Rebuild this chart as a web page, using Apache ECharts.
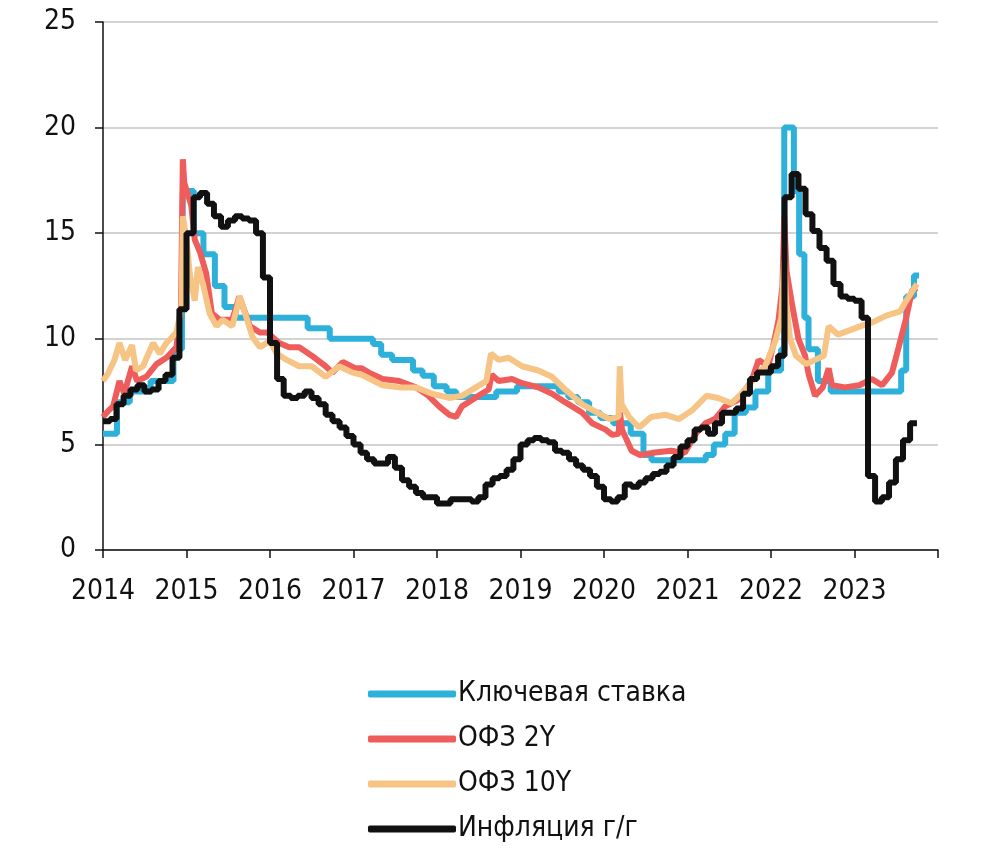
<!DOCTYPE html>
<html>
<head>
<meta charset="utf-8">
<script src="https://cdn.jsdelivr.net/npm/echarts@6/dist/echarts.min.js"></script>
<style>
  html, body { margin: 0; padding: 0; background: #fff; }
  #chart { width: 987px; height: 855px; }
</style>
</head>
<body>
<div id="chart"></div>
<script>
// ---------- DATA ----------
const seriesNames = ['Ключевая ставка', 'ОФЗ 2Y', 'ОФЗ 10Y', 'Инфляция г/г'];
const yTicks = [0, 5, 10, 15, 20, 25];
const xYears = [2014, 2015, 2016, 2017, 2018, 2019, 2020, 2021, 2022, 2023];

// Key rate (step changes)
const keyDates = ['2014-01-01','2014-03-03','2014-04-28','2014-07-28','2014-11-05','2014-12-12','2014-12-16',
  '2015-02-02','2015-03-16','2015-05-05','2015-06-16','2015-08-03','2016-06-14','2016-09-19',
  '2017-03-27','2017-05-02','2017-06-19','2017-09-18','2017-10-30','2017-12-18',
  '2018-02-12','2018-03-26','2018-09-17','2018-12-17','2019-06-17','2019-07-29','2019-09-09','2019-10-28','2019-12-16',
  '2020-02-10','2020-04-27','2020-06-22','2020-07-27','2021-03-22','2021-04-26','2021-06-15','2021-07-26','2021-09-13',
  '2021-10-25','2021-12-20','2022-02-14','2022-02-28','2022-04-11','2022-05-04','2022-05-27','2022-06-14','2022-07-25',
  '2022-09-19','2023-07-24','2023-08-15','2023-09-18','2023-10-10'];
const keyValues = [5.5,7.0,7.5,8.0,9.5,10.5,17.0,
  15.0,14.0,12.5,11.5,11.0,10.5,10.0,
  9.75,9.25,9.0,8.5,8.25,7.75,
  7.5,7.25,7.5,7.75,7.5,7.25,7.0,6.5,6.25,
  6.0,5.5,4.5,4.25,4.5,5.0,5.5,6.5,6.75,
  7.5,8.5,9.5,20.0,17.0,14.0,11.0,9.5,8.0,
  7.5,8.5,12.0,13.0,13.0];

// OFZ 2Y
const ofz2Dates = ['2014-01-01','2014-01-25','2014-02-14','2014-03-14','2014-04-04','2014-05-08','2014-05-30','2014-07-09',
  '2014-08-23','2014-10-05','2014-11-18','2014-12-08','2014-12-16','2014-12-22','2015-01-22','2015-02-06','2015-03-01',
  '2015-03-28','2015-04-22','2015-05-27','2015-07-20','2015-08-20','2015-10-05','2015-11-18','2015-12-20','2016-02-10',
  '2016-03-25','2016-05-08','2016-07-02','2016-09-01','2016-10-01','2016-11-15','2017-01-10','2017-02-06','2017-03-10',
  '2017-05-08','2017-07-20','2017-10-01','2017-11-25','2018-01-10','2018-02-24','2018-03-25','2018-04-20','2018-06-03',
  '2018-07-15','2018-08-15','2018-08-28','2018-09-28','2018-11-25','2019-01-08','2019-03-20','2019-05-19','2019-07-15',
  '2019-09-28','2019-11-10','2020-01-08','2020-02-06','2020-03-05','2020-03-11','2020-03-20','2020-05-01','2020-06-07',
  '2020-08-01','2020-10-22','2020-12-20','2021-02-06','2021-03-20','2021-05-01','2021-06-15','2021-08-08','2021-10-08',
  '2021-11-08','2021-12-20','2022-01-15','2022-02-03','2022-02-20','2022-02-28','2022-03-10','2022-04-05','2022-05-01',
  '2022-05-30','2022-06-15','2022-07-13','2022-08-15','2022-09-10','2022-09-25','2022-11-20','2023-01-22','2023-03-18',
  '2023-05-01','2023-06-14','2023-07-13','2023-08-15','2023-09-10','2023-10-01'];
const ofz2Values = [6.3,6.6,6.8,8.0,7.4,8.7,8.0,8.2,
  8.8,9.1,9.6,11.5,18.5,17.4,16.3,14.7,14.1,
  13.1,11.2,10.9,10.9,12.0,10.6,10.3,10.3,9.8,
  9.6,9.6,9.2,8.7,8.4,8.9,8.6,8.6,8.4,
  8.1,8.0,7.7,7.3,6.8,6.4,6.3,6.8,7.1,
  7.4,7.6,8.3,8.0,8.1,7.9,7.7,7.4,7.0,
  6.5,6.0,5.7,5.45,5.5,6.5,5.7,4.7,4.5,
  4.6,4.7,4.6,5.5,6.0,6.2,6.8,7.1,8.0,
  9.0,8.7,9.9,10.9,12.5,15.8,13.2,11.5,10.0,
  9.2,8.3,7.3,7.7,8.6,7.8,7.7,7.8,8.1,
  7.8,8.4,9.6,11.0,12.3,12.4];

// OFZ 10Y
const ofz10Dates = ['2014-01-01','2014-01-25','2014-02-20','2014-03-14','2014-04-08','2014-05-08','2014-05-25','2014-06-25',
  '2014-08-08','2014-09-06','2014-10-05','2014-11-18','2014-12-10','2014-12-16','2015-01-01','2015-01-15','2015-02-06',
  '2015-02-20','2015-03-14','2015-04-12','2015-05-12','2015-06-08','2015-07-20','2015-08-22','2015-09-20','2015-10-16',
  '2015-11-18','2016-01-01','2016-01-30','2016-03-14','2016-05-08','2016-07-02','2016-09-01','2016-10-30','2016-12-28',
  '2017-02-06','2017-05-08','2017-07-20','2017-10-01','2017-12-10','2018-02-24','2018-04-20','2018-06-20','2018-08-05',
  '2018-08-25','2018-09-28','2018-11-10','2019-01-08','2019-03-20','2019-05-19','2019-07-15','2019-09-28','2019-11-25',
  '2020-01-25','2020-03-05','2020-03-10','2020-03-18','2020-04-20','2020-06-03','2020-07-25','2020-09-28','2020-11-25',
  '2021-01-20','2021-03-25','2021-05-15','2021-07-13','2021-08-25','2021-10-27','2021-12-06','2022-01-20','2022-02-15',
  '2022-02-28','2022-03-10','2022-03-25','2022-04-20','2022-06-03','2022-08-20','2022-09-10','2022-10-20','2022-12-10',
  '2023-01-28','2023-03-25','2023-05-20','2023-07-20','2023-08-15','2023-10-01'];
const ofz10Values = [8.0,8.4,9.0,9.8,9.0,9.7,8.5,8.7,
  9.8,9.3,9.8,10.3,11.5,15.8,14.7,13.1,11.8,
  13.4,12.6,11.2,10.6,10.9,10.6,12.0,11.0,10.1,
  9.6,9.9,9.3,9.0,8.7,8.7,8.2,8.7,8.4,
  8.3,7.8,7.7,7.7,7.4,7.2,7.3,7.7,8.0,
  9.3,9.0,9.1,8.7,8.5,8.2,7.6,6.9,6.55,
  6.2,6.3,8.7,6.9,6.3,5.8,6.3,6.4,6.2,
  6.6,7.3,7.2,6.95,7.4,8.2,8.7,9.9,11.0,
  13.7,11.5,10.0,9.2,8.8,9.2,10.6,10.2,10.4,
  10.6,10.8,11.1,11.3,11.8,12.6];

// Inflation y/y, monthly from Jan 2014
const cpiStart = [2014, 1];
const cpiValues = [
  6.1,6.2,6.9,7.3,7.6,7.8,7.5,7.6,8.0,8.3,9.1,11.4,
  15.0,16.7,16.9,16.4,15.8,15.3,15.6,15.8,15.7,15.6,15.0,12.9,
  9.8,8.1,7.3,7.2,7.3,7.5,7.2,6.9,6.4,6.1,5.8,5.4,
  5.0,4.6,4.3,4.1,4.1,4.4,3.9,3.3,3.0,2.7,2.5,2.5,
  2.2,2.2,2.4,2.4,2.4,2.3,2.5,3.1,3.4,3.5,3.8,4.3,
  5.0,5.2,5.3,5.2,5.1,4.7,4.6,4.3,4.0,3.8,3.5,3.0,
  2.4,2.3,2.5,3.1,3.0,3.2,3.4,3.6,3.7,4.0,4.4,4.9,
  5.2,5.7,5.8,5.5,6.0,6.5,6.5,6.7,7.4,8.1,8.4,8.4,
  8.7,9.2,16.7,17.8,17.1,15.9,15.1,14.3,13.7,12.6,12.0,11.9,
  11.8,11.0,3.5,2.3,2.5,3.2,4.3,5.2,6.0,6.0];

// ---------- HELPERS ----------
function toYear(s) {
  const p = s.split('-').map(Number);
  const t = Date.UTC(p[0], p[1] - 1, p[2]);
  const a = Date.UTC(p[0], 0, 1), b = Date.UTC(p[0] + 1, 0, 1);
  return p[0] + (t - a) / (b - a);
}
function pairs(dates, vals) { return dates.map((d, i) => [toYear(d), vals[i]]); }
const cpiDates = cpiValues.map((v, i) => {
  const m = cpiStart[1] - 1 + i;
  const y = cpiStart[0] + Math.floor(m / 12);
  const mm = (m % 12) + 1;
  return y + '-' + String(mm).padStart(2, '0') + '-01';
});

const FONT = "'Liberation Sans Narrow', 'DejaVu Sans Condensed', 'Roboto Condensed', 'Liberation Sans', sans-serif";
const colors = ['#2db1da', '#ee5d5b', '#f6c484', '#111111'];
const LW = 6;

const chart = echarts.init(document.getElementById('chart'), null, { renderer: 'canvas' });
chart.setOption({
  animation: false,
  backgroundColor: '#ffffff',
  color: colors,
  textStyle: { fontFamily: FONT },
  grid: { left: 103, right: 49, top: 22, bottom: 305, containLabel: false },
  xAxis: {
    type: 'value', min: 2014, max: 2024, interval: 1,
    axisLine: { show: true, onZero: false, lineStyle: { color: '#111', width: 1.5 } },
    axisTick: { show: true, inside: false, length: 8, lineStyle: { color: '#111', width: 1.5 } },
    axisLabel: { fontSize: 28, color: '#111', fontFamily: FONT, margin: 28,
      formatter: v => (xYears.indexOf(Math.round(v)) >= 0 ? String(Math.round(v)) : '') },
    splitLine: { show: false }
  },
  yAxis: {
    type: 'value', min: yTicks[0], max: yTicks[yTicks.length - 1], interval: 5,
    axisLine: { show: true, lineStyle: { color: '#111', width: 1.5 } },
    axisTick: { show: true, inside: false, length: 8, lineStyle: { color: '#111', width: 1.5 } },
    axisLabel: { fontSize: 28, color: '#111', fontFamily: FONT, margin: 27 },
    splitLine: { show: true, lineStyle: { color: '#c4c4c4', width: 1.5 } }
  },
  legend: {
    orient: 'vertical', left: 363, top: 675,
    icon: 'roundRect', itemWidth: 88, itemHeight: 7, itemGap: 17,
    textStyle: { fontSize: 28, color: '#111', fontFamily: FONT, padding: [0, 0, 0, -3] },
    data: seriesNames
  },
  series: [
    { name: seriesNames[0], type: 'line', step: 'end', showSymbol: false, data: pairs(keyDates, keyValues),
      lineStyle: { width: LW, color: colors[0] }, z: 1 },
    { name: seriesNames[1], type: 'line', showSymbol: false, data: pairs(ofz2Dates, ofz2Values),
      lineStyle: { width: LW, color: colors[1] }, z: 2 },
    { name: seriesNames[2], type: 'line', showSymbol: false, data: pairs(ofz10Dates, ofz10Values),
      lineStyle: { width: LW, color: colors[2] }, z: 3 },
    { name: seriesNames[3], type: 'line', step: 'end', showSymbol: false, data: pairs(cpiDates, cpiValues),
      lineStyle: { width: LW, color: colors[3] }, z: 4 }
  ]
});
</script>
</body>
</html>
